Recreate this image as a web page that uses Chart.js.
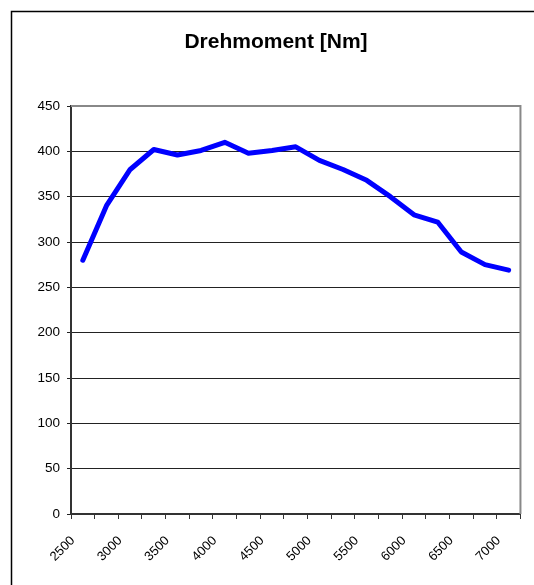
<!DOCTYPE html>
<html>
<head>
<meta charset="utf-8">
<script src="https://cdn.jsdelivr.net/npm/chart.js@4"></script>
<style>
  html, body { margin: 0; padding: 0; background: #fff; }
  #wrap { width: 534px; height: 585px; }
</style>
</head>
<body>
<div id="wrap"><canvas id="chart" width="534" height="585"></canvas></div>
<script>
// Drehzahl (Kategorien) und Drehmoment
const rpm = [2500, 2750, 3000, 3250, 3500, 3750, 4000, 4250, 4500, 4750,
             5000, 5250, 5500, 5750, 6000, 6250, 6500, 6750, 7000];
const torque = [280, 340, 380, 402, 396, 401, 410, 398, 401, 405,
                390, 380, 368, 350, 330, 322, 289, 275, 269];
const yTicks = [0, 50, 100, 150, 200, 250, 300, 350, 400, 450];
const chartTitle = 'Drehmoment [Nm]';

const fontFamily = '"Liberation Sans", Arial, sans-serif';

// title and outer frame
const framePlugin = {
    id: 'frame',
    beforeDraw(chart) {
        const ctx = chart.ctx;
        ctx.save();
        ctx.fillStyle = '#fff';
        ctx.fillRect(0, 0, chart.width, chart.height);
        ctx.strokeStyle = '#000';
        ctx.lineWidth = 1.5;
        ctx.strokeRect(11.5, 11.5, 700, 700);
        ctx.restore();
    },
    afterDraw(chart) {
        const ctx = chart.ctx;
        const area = chart.chartArea;
        ctx.save();
        // top and right border of plot area
        ctx.strokeStyle = '#888';
        ctx.lineWidth = 2;
        ctx.beginPath();
        ctx.moveTo(area.left, area.top);
        ctx.lineTo(area.right, area.top);
        ctx.lineTo(area.right, area.bottom);
        ctx.stroke();
        ctx.fillStyle = '#000';
        ctx.font = 'bold 21px ' + fontFamily;
        ctx.textAlign = 'center';
        ctx.textBaseline = 'alphabetic';
        ctx.fillText(chartTitle, 276, 48);
        ctx.restore();
    }
};

const ctx = document.getElementById('chart').getContext('2d');

new Chart(ctx, {
    type: 'line',
    data: {
        labels: rpm.map(String),
        datasets: [{
            label: chartTitle,
            data: torque,
            borderColor: '#0000ff',
            backgroundColor: '#0000ff',
            borderWidth: 5,
            borderJoinStyle: 'round',
            borderCapStyle: 'round',
            pointRadius: 0,
            tension: 0,
            fill: false
        }]
    },
    options: {
        responsive: false,
        animation: false,
        layout: {
            autoPadding: false,
            padding: { top: 106, right: 13, left: 0, bottom: 0 }
        },
        plugins: {
            legend: { display: false },
            title: { display: false },
            tooltip: { enabled: false }
        },
        scales: {
            x: {
                type: 'category',
                offset: true,
                grid: {
                    offset: true,
                    drawOnChartArea: false,
                    drawTicks: true,
                    tickLength: 5,
                    color: '#333',
                    lineWidth: 1
                },
                border: { color: '#333', width: 2 },
                ticks: {
                    autoSkip: false,
                    maxRotation: 45,
                    minRotation: 45,
                    labelOffset: -10,
                    padding: 14,
                    color: '#000',
                    font: { family: fontFamily, size: 13 },
                    callback: (val, i) => (i % 2 === 0 ? rpm[i] : '')
                },
                afterFit(scale) { scale.height = 71; }
            },
            y: {
                min: 0,
                max: 450,
                afterBuildTicks(scale) {
                    scale.ticks = yTicks.map(v => ({ value: v }));
                },
                grid: {
                    drawTicks: true,
                    tickLength: 4,
                    color: '#222',
                    lineWidth: 1
                },
                border: { color: '#333', width: 2 },
                ticks: {
                    padding: 7,
                    color: '#000',
                    font: { family: fontFamily, size: 13.5 }
                },
                afterFit(scale) { scale.width = 71; }
            }
        }
    },
    plugins: [framePlugin]
});
</script>
</body>
</html>
